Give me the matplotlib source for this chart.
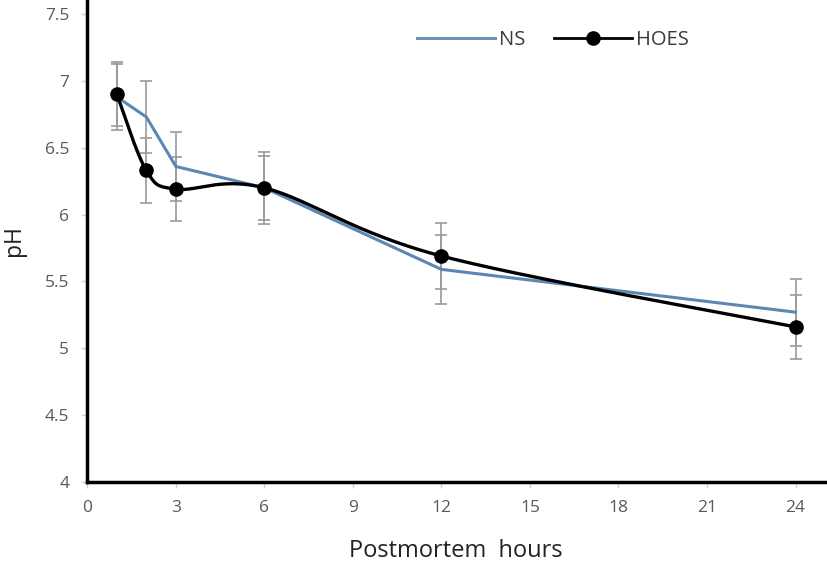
import numpy as np
import matplotlib
matplotlib.use("Agg")
import matplotlib.pyplot as plt
from matplotlib.lines import Line2D

hours = [1, 2, 3, 6, 12, 24]
ns_ph = [6.88, 6.73, 6.36, 6.20, 5.59, 5.27]
ns_err = [0.25, 0.27, 0.26, 0.27, 0.26, 0.25]
hoes_ph = [6.90, 6.33, 6.19, 6.20, 5.69, 5.16]
hoes_err = [0.24, 0.24, 0.24, 0.24, 0.25, 0.24]
x_ticks = [0, 3, 6, 9, 12, 15, 18, 21, 24]
y_ticks = [4, 4.5, 5, 5.5, 6, 6.5, 7, 7.5]

plt.rcParams['font.family'] = ['Open Sans', 'DejaVu Sans']


def smooth(xs, ys, n=50):
    # Excel-like smoothed line: cubic Bezier with Catmull-Rom control points
    P = np.column_stack([xs, ys]).astype(float)
    P = np.vstack([P[0], P, P[-1]])
    ox, oy = [], []
    for i in range(1, len(P) - 2):
        p0, p1, p2, p3 = P[i - 1], P[i], P[i + 1], P[i + 2]
        c1 = p1 + (p2 - p0) / 6.0
        c2 = p2 - (p3 - p1) / 6.0
        t = np.linspace(0, 1, n)[:, None]
        b = (1 - t) ** 3 * p1 + 3 * (1 - t) ** 2 * t * c1 + 3 * (1 - t) * t ** 2 * c2 + t ** 3 * p2
        ox.extend(b[:, 0]); oy.extend(b[:, 1])
    return np.array(ox), np.array(oy)


fig = plt.figure(figsize=(8.27, 5.69), dpi=100)
ax = fig.add_axes([0.1056, 0.153, 0.892, 0.847])

ax.errorbar(hours, ns_ph, yerr=ns_err, fmt='none', ecolor='#9a9a9a', elinewidth=1.2,
            capsize=4, capthick=1.2, zorder=1)
ax.errorbar(hours, hoes_ph, yerr=hoes_err, fmt='none', ecolor='#9a9a9a', elinewidth=1.2,
            capsize=4, capthick=1.2, zorder=1)

ax.plot(hours, ns_ph, color='#5b87b3', lw=2.2, zorder=2)
sx, sy = smooth(hours, hoes_ph)
ax.plot(sx, sy, color='black', lw=2.4, zorder=3)
ax.plot(hours, hoes_ph, 'o', color='black', ms=9.5, zorder=4)

ax.set_xlim(0, 25)
ax.set_ylim(4, 7.605)
ax.set_xticks(x_ticks)
ax.set_yticks(y_ticks)
ax.set_xticklabels([str(v) for v in x_ticks])
ax.set_yticklabels([('%g' % v) for v in y_ticks])
ax.tick_params(axis='both', colors='#d0d0d0', labelcolor='#595959', labelsize=12.5,
               length=4, width=1, direction='out')
ax.tick_params(axis='x', pad=9)
ax.tick_params(axis='y', pad=9)
for s in ('top', 'right'):
    ax.spines[s].set_visible(False)
for s in ('left', 'bottom'):
    ax.spines[s].set_linewidth(2.5)
    ax.spines[s].set_color('black')
    ax.spines[s].set_zorder(5)

ax.set_xlabel('Postmortem  hours', fontsize=17, color='#222222')
ax.xaxis.set_label_coords(0.499, -0.118)
ax.set_ylabel('pH', fontsize=16.5, color='#222222')
ax.yaxis.set_label_coords(-0.083, 0.5)

handles = [Line2D([], [], color='#6f93b8', lw=2.2),
           Line2D([], [], color='black', lw=2, marker='o', ms=9.5)]
leg = ax.legend(handles, ['NS', 'HOES'], loc='center left', bbox_to_anchor=(0.422, 0.917),
                ncol=2, frameon=False, fontsize=14.5, handlelength=3.9, handletextpad=0.2,
                columnspacing=1.4)
for t in leg.get_texts():
    t.set_color('#3a3a3a')

fig.savefig('out.png', dpi=100)
